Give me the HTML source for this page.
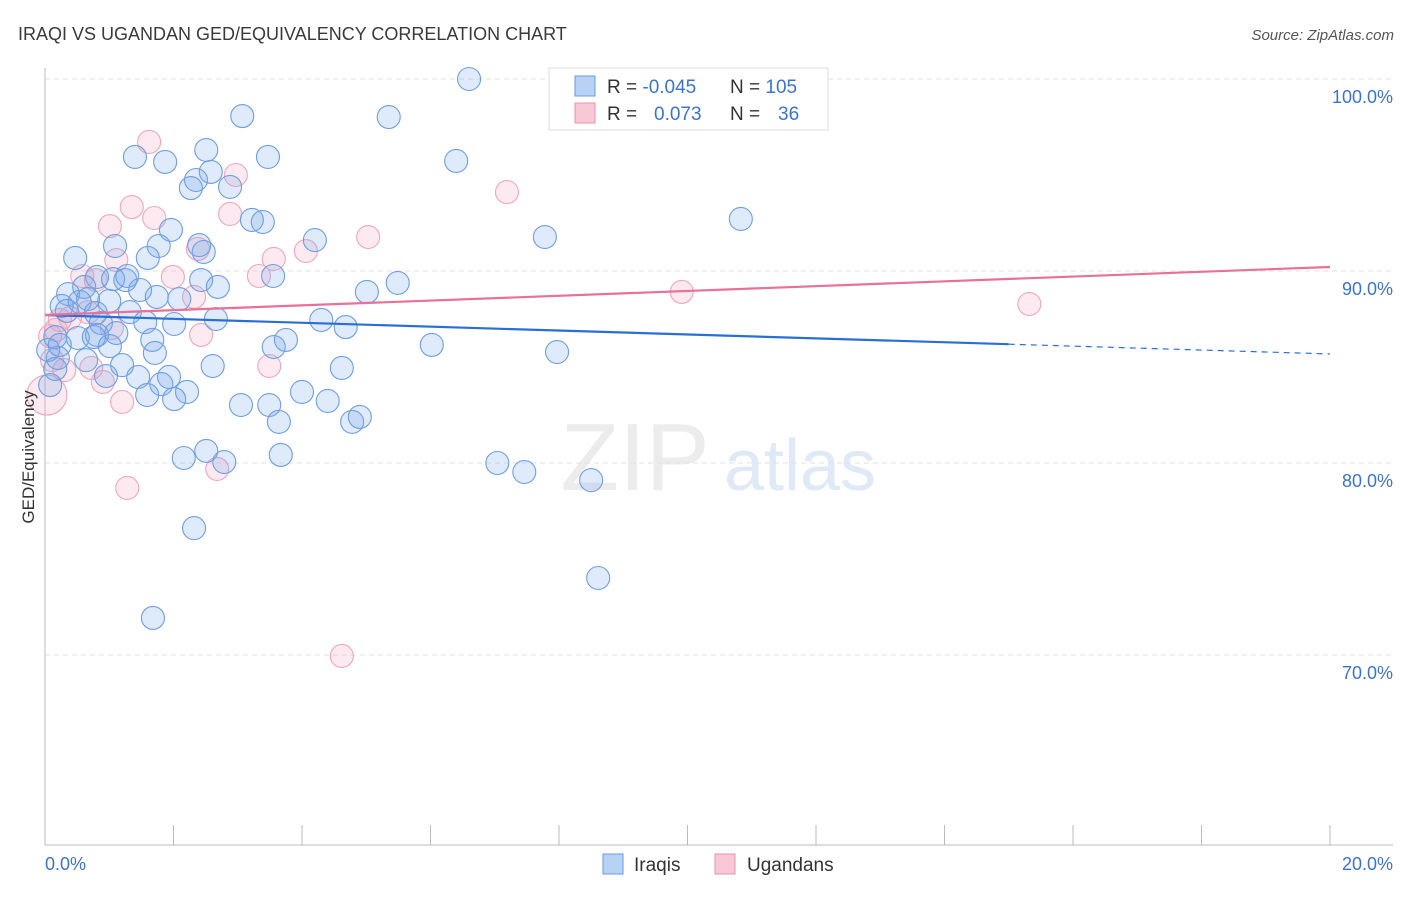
<!DOCTYPE html>
<html><head><meta charset="utf-8"><style>
body{margin:0;background:#fff;font-family:"Liberation Sans",sans-serif;}
svg text{font-family:"Liberation Sans",sans-serif;}
</style></head><body>
<svg width="1406" height="892">
<text x="18" y="40" font-size="18" fill="#3a3a3a">IRAQI VS UGANDAN GED/EQUIVALENCY CORRELATION CHART</text>
<text x="1394" y="40" font-size="15" font-style="italic" fill="#555" text-anchor="end">Source: ZipAtlas.com</text>
<text x="635" y="490" font-size="96" font-family="Liberation Serif" fill="#ececec" text-anchor="middle">ZIP</text>
<text x="800" y="490" font-size="72" fill="#e0e9f6" text-anchor="middle">atlas</text>
<g id="grid"></g><g id="axes"></g><g id="pts"></g><g id="trend"></g>
<text transform="translate(34,457) rotate(-90)" font-size="17" fill="#333" text-anchor="middle">GED/Equivalency</text>
<text x="45" y="870" font-size="18" fill="#3b73d1">0.0%</text>
<text x="1393" y="870" font-size="18" fill="#3b73d1" text-anchor="end">20.0%</text>
<g>
<rect x="549" y="68" width="279" height="62" fill="#fff" stroke="#ddd"/>
<rect x="575" y="76" width="20" height="20" fill="#b8d2f4" stroke="#6a9ae0"/>
<rect x="575" y="103" width="20" height="20" fill="#f8c8d6" stroke="#e890aa"/>
<text x="607" y="93" font-size="19" fill="#333">R = <tspan fill="#3b73d1">-0.045</tspan><tspan x="730">N = </tspan><tspan fill="#3b73d1">105</tspan></text>
<text x="607" y="120" font-size="19" fill="#333">R = <tspan x="654" fill="#3b73d1">0.073</tspan><tspan x="730">N = </tspan><tspan x="778" fill="#3b73d1">36</tspan></text>
</g>
<g>
<rect x="603" y="854" width="20" height="20" fill="#b8d2f4" stroke="#6a9ae0"/>
<text x="634" y="871" font-size="19" fill="#333">Iraqis</text>
<rect x="715" y="854" width="20" height="20" fill="#f8c8d6" stroke="#e890aa"/>
<text x="747" y="871" font-size="19" fill="#333">Ugandans</text>
</g>
</svg>
<script>
const yTicks=[100,90,80,70];
const yTickLabels=["100.0%","90.0%","80.0%","70.0%"];
const xTicks=[2,4,6,8,10,12,14,16,18,20];
const iraqiX=[6.60,3.07,5.35,1.40,3.47,1.87,6.40,2.51,2.58,2.35,2.27,2.88,3.22,3.39,10.83,1.96,4.20,7.78,1.09,1.77,2.40,0.47,1.60,2.47,3.55,0.81,1.06,1.25,1.28,2.43,2.69,5.49,5.01,1.48,1.74,2.09,0.36,0.61,0.26,0.54,0.67,1.00,0.34,0.79,1.32,1.56,2.66,2.01,4.30,4.68,0.87,0.16,0.51,0.81,1.11,0.76,1.01,1.67,3.56,3.75,6.02,7.97,1.71,0.20,0.64,1.20,2.61,4.62,0.16,1.45,0.95,1.93,1.81,1.59,2.21,2.01,4.00,3.05,3.49,4.40,4.78,4.90,3.64,2.16,2.51,2.79,3.67,7.04,7.46,8.50,2.32,8.61,1.68,0.08,0.05,0.23];
const iraqiY=[100.0,98.07,98.02,95.94,95.94,95.68,95.73,96.30,95.16,94.74,94.32,94.38,92.66,92.55,92.71,92.14,91.61,91.77,91.30,91.30,91.35,90.68,90.68,90.99,89.74,89.69,89.58,89.53,89.74,89.53,89.17,89.38,88.91,89.01,88.65,88.54,88.80,89.17,88.18,88.39,88.54,88.44,87.92,87.81,87.86,87.34,87.50,87.24,87.45,87.08,87.29,86.56,86.51,86.67,86.77,86.56,86.09,86.41,86.04,86.41,86.15,85.78,85.73,85.47,85.36,85.10,85.05,84.95,84.90,84.48,84.53,84.48,84.11,83.54,83.70,83.33,83.70,83.02,83.02,83.23,82.14,82.40,82.14,80.26,80.63,80.05,80.42,80.00,79.53,79.11,76.61,74.01,71.93,84.06,85.89,86.15];
const ugX=[1.62,2.97,7.19,1.35,1.01,1.70,2.88,5.03,2.38,4.06,3.56,0.58,0.79,1.11,1.99,3.33,2.32,9.91,15.32,0.23,0.17,0.39,1.04,2.43,3.49,0.72,0.30,0.90,1.20,1.28,2.68,4.62,0.03,0.08,0.67,0.11];
const ugY=[96.72,95.00,94.11,93.33,92.34,92.76,92.97,91.77,91.15,91.04,90.63,89.74,89.53,90.57,89.69,89.74,88.65,88.91,88.28,87.45,86.93,87.55,87.03,86.67,85.05,84.95,84.84,84.22,83.18,78.70,79.69,69.95,83.54,86.61,87.86,85.36];
const ugBig=[32];
const iraqiTrend=[87.71,85.68]; const iraqiSolidEnd=15.0;
const ugTrend=[87.71,90.21];
const NS="http://www.w3.org/2000/svg";
const X=v=>45+v*64.25, Y=v=>79+(100-v)*19.2;
function mk(tag,attrs,parent){const e=document.createElementNS(NS,tag);for(const k in attrs)e.setAttribute(k,attrs[k]);document.getElementById(parent).appendChild(e);return e;}
yTicks.forEach((t,i)=>{
 const l=mk('line',{x1:45,x2:1393,y1:Y(t),y2:Y(t),stroke:'#e2e2e2','stroke-dasharray':'5,4'},'grid');
 
 
 const tx=mk('text',{x:1393,y:Y(t)+24,'font-size':18,fill:'#3b73d1','text-anchor':'end'},'grid');
 tx.textContent=yTickLabels[i];
 
 
});
const ya=mk('line',{x1:45,x2:45,y1:68,y2:845,stroke:'#bbb'},'axes');


const xa=mk('line',{x1:45,x2:1393,y1:845,y2:845,stroke:'#bbb'},'axes');


xTicks.forEach(t=>{const l=mk('line',{x1:X(t),x2:X(t),y1:825,y2:845,stroke:'#bbb'},'axes');
 
 });
ugX.forEach((x,i)=>{const c=mk('circle',{cx:X(x),cy:Y(ugY[i]),r:ugBig.includes(i)?20:11.5,fill:'rgba(242,160,188,0.22)',stroke:'#f0a6bd','stroke-width':1.1},'pts');
 
 });
iraqiX.forEach((x,i)=>{const c=mk('circle',{cx:X(x),cy:Y(iraqiY[i]),r:11.5,fill:'rgba(120,168,235,0.24)',stroke:'#6e9ee4','stroke-width':1.1},'pts');
 
 });
const ib=v=>iraqiTrend[0]+(iraqiTrend[1]-iraqiTrend[0])*v/20;
let t1=mk('line',{x1:X(0),y1:Y(ib(0)),x2:X(iraqiSolidEnd),y2:Y(ib(iraqiSolidEnd)),stroke:'#2a6fd6','stroke-width':2.2},'trend');


let t2=mk('line',{x1:X(iraqiSolidEnd),y1:Y(ib(iraqiSolidEnd)),x2:X(20),y2:Y(ib(20)),stroke:'#2a6fd6','stroke-width':1.2,'stroke-dasharray':'6,5'},'trend');


let t3=mk('line',{x1:X(0),y1:Y(ugTrend[0]),x2:X(20),y2:Y(ugTrend[1]),stroke:'#e8709a','stroke-width':2.2},'trend');


</script>
</body></html>
